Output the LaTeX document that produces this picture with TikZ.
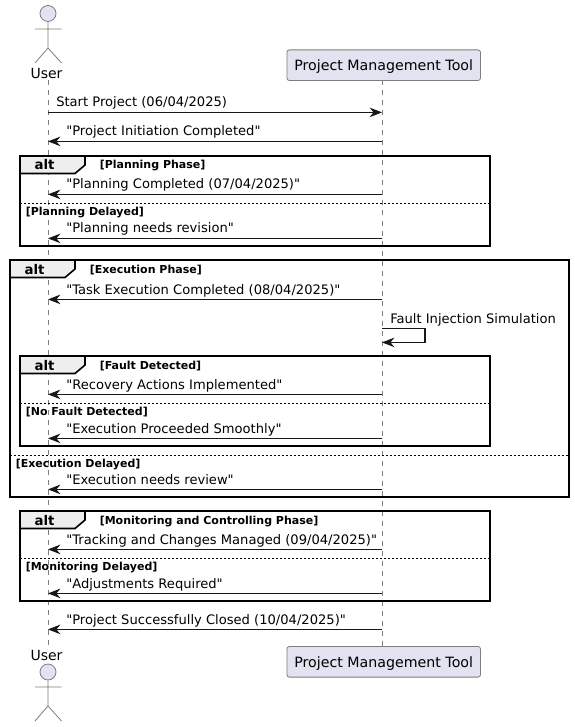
\documentclass[tikz,border=0pt]{standalone}
\usepackage{fontspec}
\newfontfamily\dv{DejaVu Sans}
\usetikzlibrary{arrows.meta}
\definecolor{actorfill}{HTML}{E2E2F0}
\definecolor{actorline}{HTML}{7E7E7E}
\definecolor{tabfill}{HTML}{EEEEEE}
\definecolor{ink}{HTML}{181818}
\tikzset{
  x=0.75pt,y=-0.75pt,
  lifeline/.style={draw=actorline,line width=0.6pt,dash pattern=on 3.75pt off 3.75pt},
  msg/.style={draw=ink,line width=0.8pt,-{Stealth[length=9.3pt,width=7.2pt,inset=3pt]}},
  msglabel/.style={anchor=base west,inner sep=0pt,font=\dv\fontsize{9.82pt}{12pt}\selectfont,text=black},
  part/.style={draw=actorline,fill=actorfill,rounded corners=1.9pt,line width=0.6pt,minimum width=145.2pt,minimum height=23pt,inner sep=0pt,text depth=0pt,font=\dv\fontsize{10.65pt}{12pt}\selectfont,text=black},
  actorname/.style={inner sep=0pt,anchor=base,font=\dv\fontsize{10.5pt}{12pt}\selectfont,text=black},
  actorhead/.style={circle,draw=actorline,fill=actorfill,line width=0.6pt,minimum size=12pt,inner sep=0pt},
  actorbody/.style={draw=actorline,line width=0.6pt},
  frameb/.style={draw=black,line width=1.2pt},
  tabs/.style={draw=black,fill=tabfill,line width=1.2pt,line join=miter},
  divider/.style={draw=black,line width=0.6pt,dash pattern=on 1.5pt off 1.5pt},
  alttext/.style={anchor=base,inner sep=0pt,font=\dv\fontsize{10pt}{12pt}\selectfont\bfseries,text=black},
  guard/.style={anchor=base west,inner sep=0pt,font=\dv\fontsize{8.25pt}{10pt}\selectfont\bfseries,text=black},
}
\newcommand{\altframe}[8]{% x0 x1 y0 y1 ydiv name guard divguard
  \draw[frameb] (#1,#3) rectangle (#2,#4);
  \draw[tabs] (#1,#3) -- (#1+65,#3) -- (#1+65,#3+9) -- (#1+55,#3+17.5) -- (#1,#3+17.5) -- cycle;
  \node[alttext] (#6alt) at (#1+24.5,#3+14) {alt};
  \node[guard] (#6g) at (#1+79.5,#3+13) {[#7]};
  \draw[divider] (#1,#5) -- (#2,#5);
  \node[guard] (#6d) at (#1+5.5,#5+12) {[#8]};
}
\begin{document}
\begin{tikzpicture}
\useasboundingbox (0,0) rectangle (574,727);
\fill[white] (0,0) rectangle (574,727);
% lifelines
\coordinate (ut) at (48,80);
\coordinate (ub) at (48,646);
\coordinate (pt) at (382,80.5);
\coordinate (pb) at (382,646);
\draw[lifeline] (ut) -- (ub);
\draw[lifeline] (pt) -- (pb);
% frames
\altframe{20}{490}{156}{246}{203}{fa}{Planning Phase}{Planning Delayed}
\altframe{10}{569}{260}{497}{455}{fb}{Execution Phase}{Execution Delayed}
\altframe{20}{490}{356}{446}{403}{fc}{Fault Detected}{No Fault Detected}
\altframe{20}{490}{511}{601}{558}{fd}{Monitoring and Controlling Phase}{Monitoring Delayed}
% actors and participants
\node[part] (ptop) at (383.7,65.2) {Project Management Tool};
\node[part] (pbot) at (383.7,661.8) {Project Management Tool};
\node[actorname] (utxt) at (46.5,78.5) {User};
\node[actorname] (btxt) at (46.5,660.5) {User};
\node[actorhead] (uh) at (48,13.5) {};
\node[actorhead] (bh) at (48,672) {};
\coordinate (uneck) at (48,48);
\coordinate (bneck) at (48,706);
\draw[actorbody] (uh.south) -- (uneck) (35,29) -- (61.5,29) (35,63) -- (uneck) -- (61.5,63);
\draw[actorbody] (bh.south) -- (bneck) (35,687) -- (61.5,687) (35,721) -- (bneck) -- (61.5,721);
% messages
\newcommand{\rmsg}[3]{%
  \coordinate (u#1) at (48,#2+0.4); \coordinate (p#1) at (382,#2+0.4);
  \draw[msg] (p#1) -- (u#1);
  \node[msglabel] (t#1) at (66,#2-5) {#3};
}
\coordinate (ua) at (48,112.4); \coordinate (pa) at (382,112.4);
\draw[msg] (ua) -- (pa);
\node[msglabel] (ta) at (56,107) {Start Project (06/04/2025)};
\rmsg{b}{141}{"Project Initiation Completed"}
\rmsg{c}{194}{"Planning Completed (07/04/2025)"}
\rmsg{d}{238}{"Planning needs revision"}
\rmsg{e}{299}{"Task Execution Completed (08/04/2025)"}
\coordinate (sa) at (382,328.4); \coordinate (sb) at (425,328.4); \coordinate (sc) at (425,342.4); \coordinate (sd) at (382,342.4);
\draw[msg] (sa) -- (sb) -- (sc) -- (sd);
\node[msglabel] (ts) at (390,323) {Fault Injection Simulation};
\rmsg{f}{394}{"Recovery Actions Implemented"}
\rmsg{g}{438}{"Execution Proceeded Smoothly"}
\rmsg{h}{489}{"Execution needs review"}
\rmsg{i}{549}{"Tracking and Changes Managed (09/04/2025)"}
\rmsg{j}{593}{"Adjustments Required"}
\rmsg{k}{629}{"Project Successfully Closed (10/04/2025)"}
\end{tikzpicture}
\end{document}
